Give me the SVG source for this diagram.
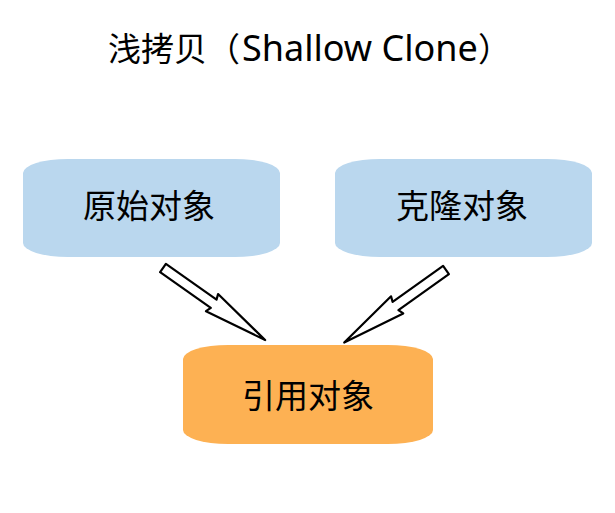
<svg xmlns="http://www.w3.org/2000/svg" width="615" height="513" viewBox="0 0 615 513">
  <style>
    .t { font-family: "Noto Sans CJK SC", "Noto Sans", sans-serif; fill: #000; }
    .title { font-size: 33px; }
    .latin { font-family: "Noto Sans", "Noto Sans CJK SC", sans-serif; font-size: 36px; }
    .lbl { font-size: 33px; text-anchor: middle; }
    .blue { fill: #BAD7EE; }
    .orange { fill: #FDB153; }
    .arrow { fill: #FFFFFF; stroke: #000; stroke-width: 2.2; stroke-linejoin: round; }
  </style>
  <defs>
    <path id="arr" d="M0,-5 L62,-5 L60,-10.5 L125,0 L60,10.5 L62,5 L0,5 Z"/>
  </defs>
  <rect width="615" height="513" fill="#FFFFFF"/>
  <text class="t title" x="108" y="61">浅拷贝（<tspan class="latin" x="242">Shallow Clone</tspan>）</text>
  <g id="node-original">
    <rect class="blue" x="23" y="159" width="257" height="98" rx="45" ry="14"/>
    <text class="t lbl" x="149" y="218">原始对象</text>
  </g>
  <g id="node-clone">
    <rect class="blue" x="335" y="159" width="257" height="98" rx="45" ry="14"/>
    <text class="t lbl" x="462" y="218">克隆对象</text>
  </g>
  <g id="node-reference">
    <rect class="orange" x="183" y="345" width="250" height="99" rx="45" ry="14"/>
    <text class="t lbl" x="308" y="408">引用对象</text>
  </g>
  <g id="connectors">
    <use href="#arr" class="arrow" transform="translate(163,268) rotate(35.2)"/>
    <use href="#arr" class="arrow" transform="translate(446,270) rotate(144.5)"/>
  </g>
</svg>
